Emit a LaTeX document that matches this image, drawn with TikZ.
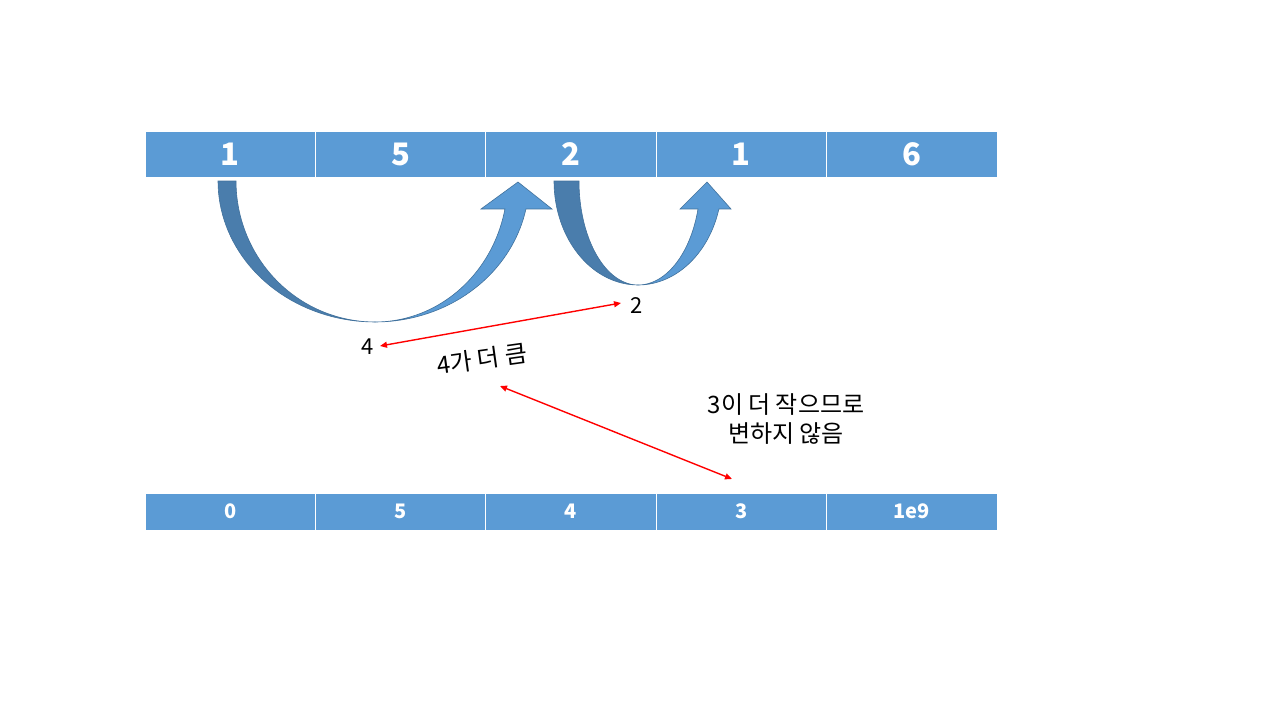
\documentclass[tikz,border=0pt]{standalone}
\usepackage{fontspec}
\setmainfont{Noto Sans CJK KR}
\usetikzlibrary{arrows.meta}
\definecolor{cellblue}{HTML}{5B9BD5}
\definecolor{darkblue}{HTML}{4A7DAC}
\definecolor{edgeblue}{HTML}{41719C}
\tikzset{
  topcell/.style={fill=cellblue, draw=white, line width=0.8pt, minimum width=170.4pt, minimum height=46pt, inner sep=0pt, outer sep=0pt, text=white, font=\fontsize{31}{36}\selectfont\bfseries},
  botcell/.style={fill=cellblue, draw=white, line width=0.8pt, minimum width=170.4pt, minimum height=37pt, inner sep=0pt, outer sep=0pt, text=white, font=\fontsize{20}{24}\selectfont\bfseries},
  lbl/.style={text=black, inner sep=1pt, font=\fontsize{22}{28}\selectfont},
  klbl/.style={text=black, inner sep=1pt, font=\fontsize{24}{29}\selectfont},
  redarrow/.style={draw=red, line width=1.4pt, {Triangle[length=7pt,width=6pt]}-{Triangle[length=7pt,width=6pt]}},
  backpart/.style={fill=darkblue, draw=edgeblue, line width=0.6pt},
  frontpart/.style={fill=cellblue, draw=edgeblue, line width=0.6pt}
}
\begin{document}
\begin{tikzpicture}[x=1pt,y=-1pt]
\useasboundingbox (0,0) rectangle (1280,720);
% top row
\foreach \v [count=\i] in {1,5,2,1,6} {
  \node[topcell] (c\i) at ({145+85.2+170.4*(\i-1)},154) {\v};
}
% bottom row
\foreach \v [count=\i] in {0,5,4,3,1e9} {
  \node[botcell] (d\i) at ({145+85.2+170.4*(\i-1)},511.5) {\raisebox{-1.5pt}{\v}};
}
% curved arrow 1
\path[backpart] plot[domain=180:90,samples=40] ({375+157*cos(\x)},{181+141*sin(\x)})
  -- plot[domain=90:180,samples=40] ({375+139*cos(\x)},{181+141*sin(\x)}) -- cycle;
\path[frontpart] plot[domain=90:11.45,samples=40] ({375+154*cos(\x)},{181+141*sin(\x)})
  -- (552,209) -- (518,182) -- (481,209)
  -- plot[domain=11.45:90,samples=40] ({375+132.6*cos(\x)},{181+141*sin(\x)}) -- cycle;
% curved arrow 2
\path[backpart] plot[domain=180:90,samples=40] ({638+84*cos(\x)},{181+104*sin(\x)})
  -- plot[domain=90:180,samples=40] ({638+59*cos(\x)},{181+104*sin(\x)}) -- cycle;
\path[frontpart] plot[domain=90:15.6,samples=40] ({638+84*cos(\x)},{181+104*sin(\x)})
  -- (731,209) -- (707,182) -- (680,209)
  -- plot[domain=15.6:90,samples=40] ({638+62.3*cos(\x)},{181+104*sin(\x)}) -- cycle;
% labels
\node[lbl] (l4) at (368,347) {4};
\node[lbl] (l2) at (637,306) {2};
\node[klbl, rotate=8, inner sep=0pt] (big) at (482,359) {4가 더 큼};
\node[klbl, align=center] (small) at (786,419) {3이 더 작으므로\\변하지 않음};
% red connectors
\coordinate (r1a) at (380,346);
\coordinate (r1b) at (621,303);
\coordinate (r2a) at (500,386);
\coordinate (r2b) at (732,479);
\draw[redarrow] (r1a) -- (r1b);
\draw[redarrow] (r2a) -- (r2b);
\end{tikzpicture}
\end{document}
